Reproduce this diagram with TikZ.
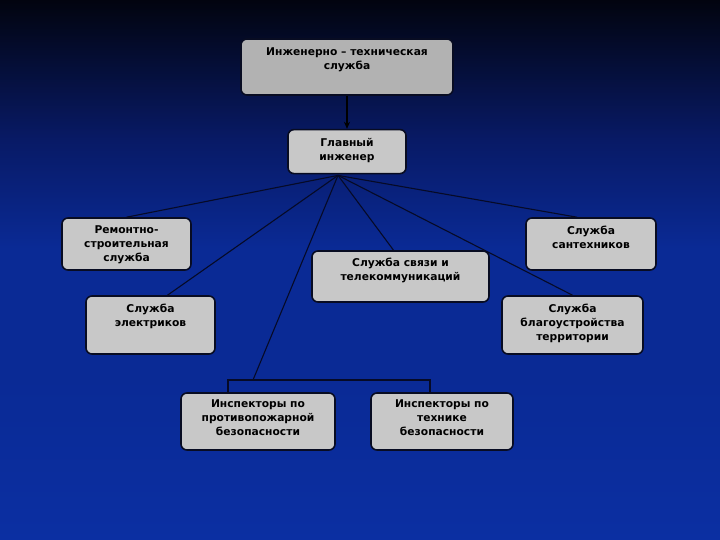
\documentclass[tikz,border=0pt]{standalone}
\usepackage{fontspec}
\setmainfont{DejaVu Sans}
\usepackage{xcolor}
\usepackage{tikz}
\usetikzlibrary{positioning, arrows.meta, calc}

\definecolor{bgtop}{HTML}{02040F}
\definecolor{bgmid}{HTML}{081A66}
\definecolor{bgblue}{HTML}{0A2A95}
\definecolor{bgbot}{HTML}{0B2FA2}
\definecolor{boxgray}{HTML}{C8C8C8}
\definecolor{headgray}{HTML}{B2B2B2}
\definecolor{edge}{HTML}{080C22}
\definecolor{wire}{HTML}{060A26}

\pgfdeclareverticalshading{slidebg}{100bp}{color(0bp)=(bgbot); color(25bp)=(bgbot);
  color(40bp)=(bgblue); color(52bp)=(bgblue); color(62bp)=(bgmid);
  color(75bp)=(bgtop); color(100bp)=(bgtop)}

\begin{document}
\begin{tikzpicture}[
    x=1pt, y=-1pt,
    unit/.style={draw=edge, fill=boxgray, rounded corners=6pt, line width=1.6pt,
                 inner sep=0pt},
    caption/.style={font=\fontsize{10.7}{14}\selectfont\bfseries, align=center,
                    inner sep=0pt, text=black},
    link/.style={wire, line width=1.1pt},
]

% Slide background
\shade[shading=slidebg] (0,0) rectangle (720,540);
\useasboundingbox (0,0) rectangle (720,540);

% Head of the service
\node[unit, fill=headgray, minimum width=212pt, minimum height=56pt] (eng) at (347,67) {};
\node[caption, below=9pt of eng.north] (eng-t) {Инженерно -- техническая\\служба};
\node[unit, minimum width=118pt, minimum height=44pt, below=33pt of eng] (chief) {};
\node[caption, below=9pt of chief.north] (chief-t) {Главный\\инженер};

% Services
\node[unit, minimum width=129pt, minimum height=52pt] (repair) at (126.5,244) {};
\node[caption, below=8pt of repair.north] (repair-t) {Ремонтно-\\строительная\\служба};
\node[unit, minimum width=129pt, minimum height=58pt] (elec) at (150.5,325) {};
\node[caption, below=9pt of elec.north] (elec-t) {Служба\\электриков};
\node[unit, minimum width=177pt, minimum height=51pt] (comm) at (400.5,276.5) {};
\node[caption, below=8pt of comm.north] (comm-t) {Служба связи и\\телекоммуникаций};
\node[unit, minimum width=130pt, minimum height=52pt] (plumb) at (591,244) {};
\node[caption, below=9pt of plumb.north] (plumb-t) {Служба\\сантехников};
\node[unit, minimum width=141pt, minimum height=58pt] (land) at (572.5,325) {};
\node[caption, below=9pt of land.north] (land-t) {Служба\\благоустройства\\территории};

% Inspectors
\node[unit, minimum width=154pt, minimum height=57pt] (fire) at (258,421.5) {};
\node[caption, below=7pt of fire.north] (fire-t) {Инспекторы по\\противопожарной\\безопасности};
\node[unit, minimum width=142pt, minimum height=57pt] (safety) at (442,421.5) {};
\node[caption, below=7pt of safety.north] (safety-t) {Инспекторы по\\технике\\безопасности};

% Connectors
\draw[link, black, line width=1.4pt, -{Stealth[length=7pt, width=6pt]}] (eng) -- (chief);
\coordinate (hub) at ([xshift=-9pt, yshift=-1pt]chief.south);
\foreach \t/\dx in {repair/0, elec/17, comm/-7, plumb/-14, land/0} {
    \draw[link] (hub) -- ([xshift=\dx pt]\t.north);
}
\coordinate (insp) at (253,380);
\coordinate (barl) at (228,380);
\coordinate (barr) at (430,380);
\draw[link] (hub) -- (insp);
\draw[link] (fire.north -| barl) -- (barl) -- (barr) -- (safety.north -| barr);

\end{tikzpicture}
\end{document}
